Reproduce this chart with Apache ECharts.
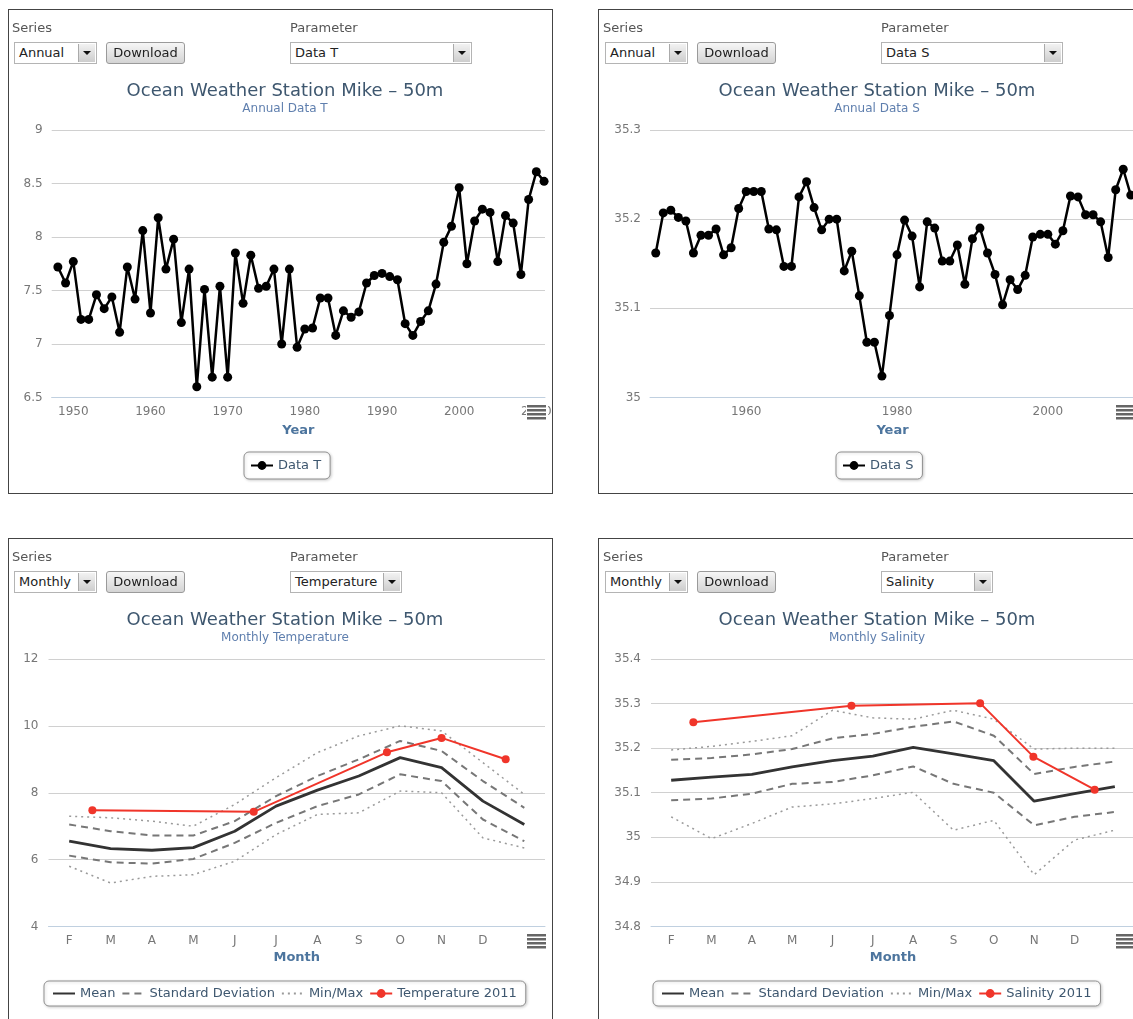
<!DOCTYPE html>
<html><head><meta charset="utf-8">
<script src="https://cdn.jsdelivr.net/npm/echarts@6/dist/echarts.min.js"></script>
<style>
html,body{margin:0;padding:0;background:#fff;overflow:hidden;width:1133px;height:1019px;}
#chart{position:absolute;left:0;top:0;width:1133px;height:1019px;}
.panel{position:absolute;width:545px;height:485px;border:1px solid #444;box-sizing:border-box;pointer-events:none;}
.c{position:absolute;font-family:"DejaVu Sans",Verdana,sans-serif;white-space:nowrap;}
.lbl{font-size:13px;color:#555;line-height:16px;}
.sel{height:22px;border:1px solid #b4b4b4;background:#fff;box-sizing:border-box;font-size:13px;color:#222;line-height:20px;padding-left:4px;}
.arr{position:absolute;right:1px;top:1px;width:16px;height:18px;background:linear-gradient(#f2f2f2,#cdcdcd);border-left:1px solid #aaa;}
.arr:after{content:'';position:absolute;left:4px;top:7px;border-left:4px solid transparent;border-right:4px solid transparent;border-top:4px solid #111;}
.btn{height:22px;border:1px solid #9a9a9a;border-radius:3px;background:linear-gradient(#f6f6f6,#d4d4d4);box-sizing:border-box;font-size:13px;color:#222;line-height:20px;text-align:center;}
</style></head>
<body>
<div id="chart"></div>
<div class="panel" style="left:8px;top:9px;"></div>
<div class="panel" style="left:598px;top:9px;"></div>
<div class="panel" style="left:8px;top:538px;"></div>
<div class="panel" style="left:598px;top:538px;"></div>

<div class="c lbl" style="left:12px;top:20px;">Series</div>
<div class="c sel" style="left:14px;top:42px;width:83px;">Annual<span class="arr"></span></div>
<div class="c btn" style="left:106px;top:42px;width:79px;">Download</div>
<div class="c lbl" style="left:290px;top:20px;">Parameter</div>
<div class="c sel" style="left:290px;top:42px;width:182px;">Data T<span class="arr"></span></div>

<div class="c lbl" style="left:603px;top:20px;">Series</div>
<div class="c sel" style="left:605px;top:42px;width:83px;">Annual<span class="arr"></span></div>
<div class="c btn" style="left:697px;top:42px;width:79px;">Download</div>
<div class="c lbl" style="left:881px;top:20px;">Parameter</div>
<div class="c sel" style="left:881px;top:42px;width:182px;">Data S<span class="arr"></span></div>

<div class="c lbl" style="left:12px;top:549px;">Series</div>
<div class="c sel" style="left:14px;top:571px;width:83px;">Monthly<span class="arr"></span></div>
<div class="c btn" style="left:106px;top:571px;width:79px;">Download</div>
<div class="c lbl" style="left:290px;top:549px;">Parameter</div>
<div class="c sel" style="left:290px;top:571px;width:112px;">Temperature<span class="arr"></span></div>

<div class="c lbl" style="left:603px;top:549px;">Series</div>
<div class="c sel" style="left:605px;top:571px;width:83px;">Monthly<span class="arr"></span></div>
<div class="c btn" style="left:697px;top:571px;width:79px;">Download</div>
<div class="c lbl" style="left:881px;top:549px;">Parameter</div>
<div class="c sel" style="left:881px;top:571px;width:112px;">Salinity<span class="arr"></span></div>

<script>
// ---------------- data ----------------
const years = [1948,1949,1950,1951,1952,1953,1954,1955,1956,1957,1958,1959,1960,1961,1962,1963,
  1964,1965,1966,1967,1968,1969,1970,1971,1972,1973,1974,1975,1976,1977,1978,1979,
  1980,1981,1982,1983,1984,1985,1986,1987,1988,1989,1990,1991,1992,1993,1994,1995,
  1996,1997,1998,1999,2000,2001,2002,2003,2004,2005,2006,2007,2008,2009,2010,2011];
const dataT = [7.72,7.57,7.77,7.23,7.23,7.46,7.33,7.44,7.11,7.72,7.42,8.06,7.29,8.18,7.70,7.98,
  7.20,7.70,6.60,7.51,6.69,7.54,6.69,7.85,7.38,7.83,7.52,7.54,7.70,7.00,7.70,6.97,
  7.14,7.15,7.43,7.43,7.08,7.31,7.25,7.30,7.57,7.64,7.66,7.63,7.60,7.19,7.08,7.21,
  7.31,7.56,7.95,8.10,8.46,7.75,8.15,8.26,8.23,7.77,8.20,8.13,7.65,8.35,8.61,8.52];
const dataS = [35.162,35.207,35.210,35.202,35.198,35.162,35.182,35.182,35.189,35.160,35.168,35.212,35.231,35.231,35.231,35.189,
  35.188,35.147,35.147,35.225,35.242,35.213,35.188,35.200,35.200,35.142,35.164,35.114,35.062,35.062,35.024,35.092,
  35.160,35.199,35.181,35.124,35.197,35.190,35.153,35.153,35.171,35.127,35.178,35.190,35.162,35.138,35.104,35.132,
  35.121,35.137,35.180,35.183,35.183,35.172,35.187,35.226,35.225,35.205,35.205,35.197,35.157,35.233,35.256,35.227];
const yearTicksT = [1950,1960,1970,1980,1990,2000,2010];
const yearTicksS = [1960,1980,2000];

const months = ['F','M','A','M','J','J','A','S','O','N','D','J'];
const monthPos = [0,1,2,3,4,5,6,7,8,9,10,11];
const monthTicks = [0,1,2,3,4,5,6,7,8,9,10];

const tempMean  = [6.55,6.33,6.28,6.36,6.85,7.60,8.08,8.50,9.05,8.75,7.75,7.05];
const tempStdHi = [7.05,6.85,6.72,6.72,7.15,7.90,8.50,9.00,9.55,9.25,8.35,7.55];
const tempStdLo = [6.12,5.92,5.88,6.02,6.50,7.10,7.60,7.95,8.55,8.35,7.20,6.55];
const tempMax   = [7.30,7.25,7.15,7.00,7.65,8.45,9.20,9.70,10.0,9.85,8.90,7.95];
const tempMin   = [5.80,5.30,5.50,5.55,5.95,6.75,7.35,7.40,8.05,8.00,6.65,6.35];
const temp2011X = [0.56,4.46,7.68,9.00,10.55];
const temp2011  = [7.48,7.43,9.21,9.64,9.00];

const salMean  = [35.128,35.135,35.141,35.158,35.172,35.182,35.202,35.187,35.172,35.081,35.098,35.114];
const salStdHi = [35.174,35.178,35.186,35.198,35.222,35.232,35.248,35.260,35.228,35.142,35.158,35.170];
const salStdLo = [35.083,35.087,35.098,35.120,35.124,35.139,35.159,35.120,35.100,35.027,35.046,35.057];
const salMax   = [35.196,35.204,35.215,35.228,35.285,35.268,35.265,35.285,35.265,35.198,35.200,35.200];
const salMin   = [35.046,34.997,35.031,35.068,35.075,35.087,35.101,35.016,35.038,34.916,34.994,35.016];
const sal2011X = [0.55,4.47,7.66,8.98,10.50];
const sal2011  = [35.258,35.295,35.301,35.181,35.107];

// ---------------- styling ----------------
const FONT = '"DejaVu Sans", Verdana, sans-serif';
const TITLE = 'Ocean Weather Station Mike \u2013 50m';
const pairs = (xs, ys) => xs.map((x, i) => [x, ys[i]]);

function title(cx, top, sub) {
  return { text: TITLE, subtext: sub, left: cx, top: top, textAlign: 'center', padding: 0, itemGap: 3,
    textStyle: { fontFamily: FONT, fontSize: 18, fontWeight: 'normal', color: '#3E576F' },
    subtextStyle: { fontFamily: FONT, fontSize: 12, color: '#5f7fae' } };
}
function xAxis(grid, min, max, ticks, name, gap, fmt) {
  return { type: 'value', gridIndex: grid, min: min, max: max,
    axisLine: { show: true, onZero: false, lineStyle: { color: '#C0D0E0', width: 1 } },
    axisTick: { show: false }, splitLine: { show: false },
    axisLabel: { customValues: ticks, color: '#777', fontSize: 12, fontFamily: FONT, margin: 8,
      formatter: fmt || (v => String(v)) },
    name: name, nameLocation: 'middle', nameGap: gap,
    nameTextStyle: { color: '#4D759E', fontWeight: 'bold', fontSize: 13, fontFamily: FONT } };
}
function yAxis(grid, min, max, step, margin) {
  return { type: 'value', gridIndex: grid, min: min, max: max, interval: step,
    axisLine: { show: false }, axisTick: { show: false },
    splitLine: { lineStyle: { color: '#d0d0d0', width: 1 } },
    axisLabel: { color: '#777', fontSize: 12, fontFamily: FONT, margin: margin } };
}
function legend(items, left, top, pad) {
  return { data: items, left: left, top: top, orient: 'horizontal', padding: pad,
    itemGap: 6, itemWidth: 22, itemHeight: 11,
    borderColor: '#909090', borderWidth: 1, borderRadius: 5, backgroundColor: '#fff',
    shadowBlur: 3, shadowColor: 'rgba(0,0,0,0.18)', shadowOffsetX: 1, shadowOffsetY: 1,
    textStyle: { color: '#3E576F', fontSize: 13, fontFamily: FONT } };
}
const lineOnly = name => ({ name: name, itemStyle: { opacity: 0 } });

function annual(name, xi, data) {
  return { type: 'line', name: name, xAxisIndex: xi, yAxisIndex: xi, data: data,
    symbol: 'circle', symbolSize: 9, showSymbol: true, color: '#000',
    lineStyle: { color: '#000', width: 2.5 }, itemStyle: { color: '#000' }, z: 3 };
}
function plain(name, xi, ys, color, width, type) {
  return { type: 'line', name: name, xAxisIndex: xi, yAxisIndex: xi, data: pairs(monthPos, ys),
    symbol: 'none', color: color, lineStyle: { color: color, width: width, type: type } };
}
function red(name, xi, xs, ys) {
  return { type: 'line', name: name, xAxisIndex: xi, yAxisIndex: xi, data: pairs(xs, ys),
    symbol: 'circle', symbolSize: 8, showSymbol: true, color: '#f0352a',
    lineStyle: { color: '#f0352a', width: 2 }, itemStyle: { color: '#f0352a' }, z: 4 };
}
function menuIcon(x, y) {
  const els = [{ type: 'rect', z: 100, shape: { x: x - 1, y: y - 2, width: 22, height: 18 }, style: { fill: '#fff' } }];
  for (let k = 0; k < 4; k++) {
    els.push({ type: 'rect', z: 101, shape: { x: x, y: y + k * 4, width: 19, height: 2.5 }, style: { fill: '#666' } });
  }
  return els;
}

const monthFmt = v => months[Math.round(v)];

const option = {
  animation: false,
  backgroundColor: '#fff',
  title: [
    title(285, 82, 'Annual Data T'),
    title(877, 82, 'Annual Data S'),
    title(285, 611, 'Monthly Temperature'),
    title(877, 611, 'Monthly Salinity')
  ],
  grid: [
    { left: 51.7, top: 130, width: 493.3, height: 267.5, outerBoundsMode: 'none' },
    { left: 650, top: 130, width: 485, height: 267.5, outerBoundsMode: 'none' },
    { left: 48.5, top: 659, width: 496.5, height: 267.5, outerBoundsMode: 'none' },
    { left: 651, top: 659, width: 484, height: 267.5, outerBoundsMode: 'none' }
  ],
  xAxis: [
    xAxis(0, 1947.2, 2011.12, yearTicksT, 'Year', 27),
    xAxis(1, 1947.24, 2011.56, yearTicksS, 'Year', 27),
    xAxis(2, -0.5, 11.5, monthTicks, 'Month', 25, monthFmt),
    xAxis(3, -0.5, 11.5, monthTicks, 'Month', 25, monthFmt)
  ],
  yAxis: [
    yAxis(0, 6.5, 9, 0.5, 9),
    yAxis(1, 35, 35.3, 0.1, 9),
    yAxis(2, 4, 12, 2, 10),
    yAxis(3, 34.8, 35.4, 0.1, 10)
  ],
  legend: [
    legend(['Data T'], 244, 452, [7, 9, 7, 6]),
    legend(['Data S'], 836, 452, [7, 9, 7, 6]),
    legend([lineOnly('Mean'), lineOnly('Standard Deviation'), lineOnly('Min/Max'), 'Temperature 2011'], 44, 981, [6, 9, 6, 8]),
    legend([lineOnly('Mean'), lineOnly('Standard Deviation'), lineOnly('Min/Max'), 'Salinity 2011'], 653, 981, [6, 9, 6, 8])
  ],
  graphic: [].concat(menuIcon(527, 405), menuIcon(1116, 405), menuIcon(527, 934), menuIcon(1116, 934)),
  series: [
    annual('Data T', 0, pairs(years, dataT)),
    annual('Data S', 1, pairs(years, dataS)),

    plain('Min/Max', 2, tempMax, '#9a9a9a', 1.5, [2, 4]),
    plain('Min/Max', 2, tempMin, '#9a9a9a', 1.5, [2, 4]),
    plain('Standard Deviation', 2, tempStdHi, '#777', 2, [7, 5]),
    plain('Standard Deviation', 2, tempStdLo, '#777', 2, [7, 5]),
    plain('Mean', 2, tempMean, '#333', 2.8, 'solid'),
    red('Temperature 2011', 2, temp2011X, temp2011),

    plain('Min/Max', 3, salMax, '#9a9a9a', 1.5, [2, 4]),
    plain('Min/Max', 3, salMin, '#9a9a9a', 1.5, [2, 4]),
    plain('Standard Deviation', 3, salStdHi, '#777', 2, [7, 5]),
    plain('Standard Deviation', 3, salStdLo, '#777', 2, [7, 5]),
    plain('Mean', 3, salMean, '#333', 2.8, 'solid'),
    red('Salinity 2011', 3, sal2011X, sal2011)
  ]
};

const chart = echarts.init(document.getElementById('chart'), null, { renderer: 'canvas' });
chart.setOption(option);
</script>
</body></html>
